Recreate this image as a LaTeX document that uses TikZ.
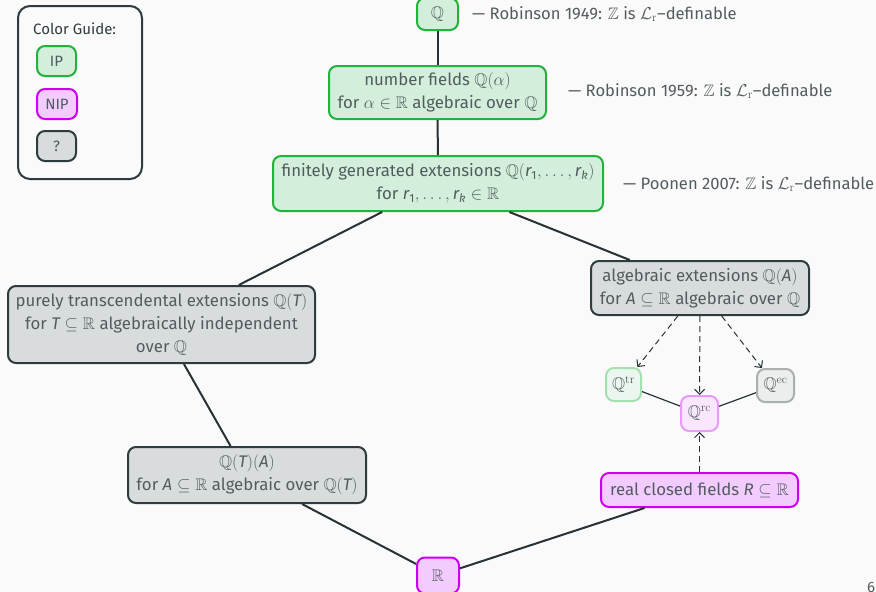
\documentclass[tikz,border=0pt]{standalone}
\usepackage{amsmath,amssymb}
\usepackage[no-math]{fontspec}
\setmainfont{Fira Sans}
\usetikzlibrary{arrows.meta}

\definecolor{bgc}{HTML}{FAFAFA}
\definecolor{txt}{HTML}{525C60}
\definecolor{linec}{HTML}{263236}
\definecolor{ipB}{HTML}{22B33C}
\definecolor{ipF}{HTML}{D3EFDB}
\definecolor{nipB}{HTML}{CC00EE}
\definecolor{nipF}{HTML}{F3CCFF}
\definecolor{unkB}{HTML}{2E3C3F}
\definecolor{unkF}{HTML}{D9DCDC}
\definecolor{ipBl}{HTML}{A6DFB2}
\definecolor{ipFl}{HTML}{EBF7EE}
\definecolor{nipBl}{HTML}{E69CF7}
\definecolor{nipFl}{HTML}{FAE6FF}
\definecolor{unkBl}{HTML}{AAB0B1}
\definecolor{unkFl}{HTML}{ECEDED}

\tikzset{
  box/.style={rounded corners=8pt, line width=2pt, align=center, text=txt,
    inner sep=0pt, font=\fontsize{16.8}{23}\selectfont},
  smallbox/.style={font=\fontsize{15}{18}\selectfont},
  ipbox/.style={box, draw=ipB, fill=ipF},
  nipbox/.style={box, draw=nipB, fill=nipF},
  unkbox/.style={box, draw=unkB, fill=unkF},
  ipfaint/.style={box, draw=ipBl, fill=ipFl},
  nipfaint/.style={box, draw=nipBl, fill=nipFl},
  unkfaint/.style={box, draw=unkBl, fill=unkFl},
  conn/.style={draw=linec, line width=2pt},
  thinconn/.style={draw=linec, line width=1.2pt},
  dashconn/.style={draw=linec, line width=1pt, dash pattern=on 6pt off 4pt,
    -{Straight Barb[length=5pt,width=10pt,line width=1pt]}},
  note/.style={anchor=west, inner sep=0pt, text=txt, font=\fontsize{16.6}{23}\selectfont},
}

\begin{document}
\begin{tikzpicture}[x=1pt,y=-1pt]
\useasboundingbox (0,0) rectangle (876,592);
\clip (0,0) rectangle (876,592);
\fill[bgc] (0,0) rectangle (876,592);

% legend
\draw[draw=unkB, line width=2pt, rounded corners=12pt] (18,6) rectangle (142,179);
\node[note, text=unkB, font=\fontsize{15}{18}\selectfont] (guide) at (33,29) {Color Guide:};
\node[ipbox, smallbox, minimum width=39pt, minimum height=30pt] (lip) at (56.5,61) {IP};
\node[nipbox, smallbox, minimum width=40pt, minimum height=30pt] (lnip) at (57,104) {NIP};
\node[unkbox, smallbox, minimum width=39pt, minimum height=30pt] (lunk) at (56.5,146) {?};

% lattice of fields
\node[ipbox, minimum width=41pt, minimum height=32pt] (q) at (437.5,14) {$\mathbb{Q}$};
\node[ipbox, minimum width=217pt, minimum height=53pt] (nf) at (437.5,92.5)
  {number fields $\mathbb{Q}(\alpha)$\\ for $\alpha\in\mathbb{R}$ algebraic over $\mathbb{Q}$};
\node[ipbox, minimum width=330pt, minimum height=55pt] (fg) at (438,183.5)
  {finitely generated extensions $\mathbb{Q}(\textit{r}_{\text{1}},\dots,\textit{r}_{\textit{k}})$\\
   for $\textit{r}_{\text{1}},\dots,\textit{r}_{\textit{k}}\in\mathbb{R}$};
\node[unkbox, minimum width=218pt, minimum height=54pt] (alg) at (700,288)
  {algebraic extensions $\mathbb{Q}(\textit{A})$\\ for $\textit{A}\subseteq\mathbb{R}$ algebraic over $\mathbb{Q}$};
\node[unkbox, minimum width=307pt, minimum height=77pt] (pt) at (161.5,324.5)
  {purely transcendental extensions $\mathbb{Q}(\textit{T})$\\
   for $\textit{T}\subseteq\mathbb{R}$ algebraically independent\\ over $\mathbb{Q}$};
\node[unkbox, minimum width=238pt, minimum height=56pt] (qta) at (247,475)
  {$\mathbb{Q}(\textit{T})(\textit{A})$\\ for $\textit{A}\subseteq\mathbb{R}$ algebraic over $\mathbb{Q}(\textit{T})$};
\node[ipfaint, minimum width=35pt, minimum height=33pt] (qtr) at (623.5,384.5) {$\mathbb{Q}^{\mathrm{tr}}$};
\node[nipfaint, minimum width=37pt, minimum height=35pt] (qrc) at (699.5,413.5) {$\mathbb{Q}^{\mathrm{rc}}$};
\node[unkfaint, minimum width=37pt, minimum height=33pt] (qec) at (775.5,385.5) {$\mathbb{Q}^{\mathrm{ec}}$};
\node[nipbox, minimum width=197pt, minimum height=34pt] (rcf) at (699.5,490)
  {real closed fields $\textit{R}\subseteq\mathbb{R}$};
\node[nipbox, minimum width=42pt, minimum height=36pt] (r) at (438,575.5) {$\mathbb{R}$};

% side remarks
\node[note] (n1) at (472,14) {— Robinson 1949: $\mathbb{Z}$ is $\mathcal{L}_{\mathrm{r}}$–definable};
\node[note] (n2) at (568,91) {— Robinson 1959: $\mathbb{Z}$ is $\mathcal{L}_{\mathrm{r}}$–definable};
\node[note] (n3) at (623,184) {— Poonen 2007: $\mathbb{Z}$ is $\mathcal{L}_{\mathrm{r}}$–definable};

% connectors
\draw[conn] (q) -- (nf);
\draw[conn] (nf) -- (fg);
\draw[conn] (fg) -- (pt);
\draw[conn] (fg) -- (alg);
\draw[conn] (pt) -- (qta);
\draw[conn] (qta) -- (r);
\draw[conn] (rcf) -- (r);
\draw[dashconn] (alg) -- (qtr);
\draw[dashconn] (alg) -- (qrc);
\draw[dashconn] (alg) -- (qec);
\draw[dashconn] (rcf) -- (qrc);
\draw[thinconn] (qtr) -- (qrc);
\draw[thinconn] (qrc) -- (qec);

% page number
\node[anchor=north west, inner sep=0pt, text=txt, font=\fontsize{15}{18}\selectfont] (pg) at (867,582) {6};
\end{tikzpicture}
\end{document}
